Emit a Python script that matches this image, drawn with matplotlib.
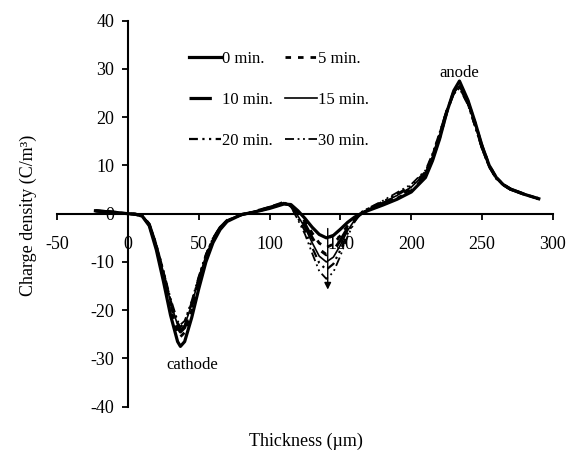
import matplotlib.pyplot as plt
import numpy as np

plt.rcParams['font.family'] = ['Liberation Serif', 'DejaVu Serif']
plt.rcParams['axes.unicode_minus'] = False

# thickness positions (um)
thickness = [-23, -10, 0, 5, 10, 15, 20, 25, 30, 35, 37, 40, 45, 50, 55, 60, 65, 70, 80, 90,
             100, 110, 115, 120, 125, 130, 135, 140, 145, 150, 155, 160, 165, 170, 180, 190,
             200, 210, 215, 220, 225, 230, 234, 240, 245, 250, 255, 260, 265, 270, 280, 290]

# charge density (C/m^3)
rho_0 = [0.6, 0.3, 0.0, -0.1, -0.5, -2.5, -7.5, -14.0, -21.0, -26.5, -27.5, -26.5, -21.5, -15.5, -10.0, -6.0, -3.3, -1.6, -0.2, 0.4,
         1.1, 2.0, 1.9, 0.6, -1.0, -2.8, -4.3, -5.0, -4.5, -3.2, -1.8, -0.7, 0.1, 0.7, 1.8, 3.0,
         4.5, 7.5, 11.0, 15.5, 21.0, 25.5, 27.5, 23.5, 19.0, 14.0, 10.0, 7.5, 6.0, 5.1, 4.0, 3.1]
rho_5 = [0.6, 0.3, 0.0, -0.1, -0.5, -2.3, -7.0, -13.0, -19.5, -24.6, -25.5, -24.6, -20.0, -14.4, -9.3, -5.6, -3.1, -1.5, -0.2, 0.4,
         1.2, 2.1, 1.8, 0.2, -1.6, -4.0, -6.1, -7.0, -6.3, -4.5, -2.5, -0.9, 0.1, 0.8, 1.9, 3.2,
         4.8, 7.8, 11.3, 15.7, 21.0, 25.2, 27.0, 23.3, 18.8, 14.0, 10.0, 7.5, 6.0, 5.1, 4.0, 3.1]
rho_10 = [0.6, 0.3, 0.0, -0.1, -0.4, -2.2, -6.7, -12.5, -18.7, -23.6, -24.5, -23.6, -19.1, -13.8, -8.9, -5.3, -2.9, -1.4, -0.2, 0.5,
          1.3, 2.2, 1.7, -0.1, -2.2, -5.0, -7.4, -8.5, -7.7, -5.5, -3.0, -1.1, 0.1, 0.9, 2.1, 3.5,
          5.2, 8.1, 11.6, 16.0, 21.2, 25.2, 26.8, 23.1, 18.6, 13.8, 9.9, 7.4, 6.0, 5.1, 4.0, 3.1]
rho_15 = [0.6, 0.3, 0.0, -0.1, -0.4, -2.2, -6.5, -12.2, -18.3, -23.1, -24.0, -23.1, -18.8, -13.5, -8.7, -5.2, -2.9, -1.4, -0.2, 0.5,
          1.3, 2.3, 1.6, -0.5, -2.9, -6.0, -8.8, -10.0, -9.0, -6.5, -3.5, -1.3, 0.2, 1.0, 2.3, 3.8,
          5.5, 8.4, 11.9, 16.3, 21.3, 25.0, 26.5, 22.9, 18.4, 13.7, 9.8, 7.4, 6.0, 5.1, 4.0, 3.1]
rho_20 = [0.6, 0.3, 0.0, -0.1, -0.4, -2.1, -6.4, -12.0, -17.9, -22.6, -23.5, -22.6, -18.4, -13.2, -8.5, -5.1, -2.8, -1.4, -0.2, 0.5,
          1.4, 2.4, 1.5, -0.9, -3.6, -7.0, -10.2, -11.6, -10.4, -7.5, -4.1, -1.5, 0.3, 1.1, 2.5, 4.1,
          5.8, 8.7, 12.2, 16.6, 21.4, 24.9, 26.2, 22.7, 18.2, 13.5, 9.7, 7.3, 5.9, 5.0, 4.0, 3.1]
rho_30 = [0.6, 0.3, 0.0, -0.1, -0.4, -2.1, -6.3, -11.7, -17.5, -22.2, -23.0, -22.2, -18.0, -12.9, -8.4, -5.0, -2.8, -1.3, -0.2, 0.5,
          1.4, 2.5, 1.4, -1.3, -4.3, -8.2, -11.9, -13.5, -12.1, -8.7, -4.7, -1.7, 0.4, 1.2, 2.7, 4.4,
          6.1, 9.0, 12.5, 16.9, 21.5, 24.8, 26.0, 22.5, 18.0, 13.3, 9.6, 7.2, 5.9, 5.0, 4.0, 3.1]

labels = ['0 min.', '5 min.', '10 min.', '15 min.', '20 min.', '30 min.']
series = [rho_0, rho_5, rho_10, rho_15, rho_20, rho_30]
styles = [('-', 2.3), ((0, (2, 2.5)), 2.0), ((0, (7, 4, 2, 4)), 2.3),
          ('-', 1.2), ((0, (4, 2, 1, 2, 1, 2)), 1.6), ((0, (5, 2, 1, 2, 1, 2)), 1.3)]

fig = plt.figure(figsize=(5.69, 4.5), dpi=100)
ax = fig.add_axes([0.1005, 0.0962, 0.8713, 0.8578])

handles = []
for rho, lab, (ls, lw) in zip(series, labels, styles):
    h, = ax.plot(thickness, rho, color='black', linestyle=ls, linewidth=lw, label=lab)
    handles.append(h)

ax.set_xlim(-50, 300)
ax.set_ylim(-40, 40)
ax.set_xticks(np.arange(-50, 301, 50))
ax.set_yticks(np.arange(-40, 41, 10))
ax.spines['left'].set_position(('data', 0))
ax.spines['bottom'].set_position(('data', 0))
ax.spines['top'].set_visible(False)
ax.spines['right'].set_visible(False)
for s in ['left', 'bottom']:
    ax.spines[s].set_linewidth(1.5)
ax.tick_params(axis='both', direction='out', length=4, width=1.3, labelsize=13)
ax.tick_params(axis='x', pad=12)
ax.tick_params(axis='y', pad=6)

# arrow across the middle dip
ax.annotate('', xy=(141, -16.3), xytext=(141, -2.5),
            arrowprops=dict(arrowstyle='-|>', color='black', lw=1.0, mutation_scale=10))

ax.text(45, -31.4, 'cathode', ha='center', va='center', fontsize=12)
ax.text(233.7, 29.2, 'anode', ha='center', va='center', fontsize=12)

order = [0, 2, 4, 1, 3, 5]
ax.legend([handles[i] for i in order], [labels[i] for i in order], ncol=2,
          loc='upper left', bbox_to_anchor=(0.306, 0.921), bbox_transform=fig.transFigure,
          frameon=False, fontsize=12, handlelength=1.9, handletextpad=0.1,
          labelspacing=1.5, columnspacing=0.7)

fig.text(306 / 569, 1 - 441 / 450, 'Thickness (µm)', ha='center', va='center', fontsize=13)
fig.text(28 / 569, 1 - 215 / 450, 'Charge density (C/m³)', ha='center', va='center',
         rotation=90, fontsize=13)

fig.savefig('out.png', dpi=100)
